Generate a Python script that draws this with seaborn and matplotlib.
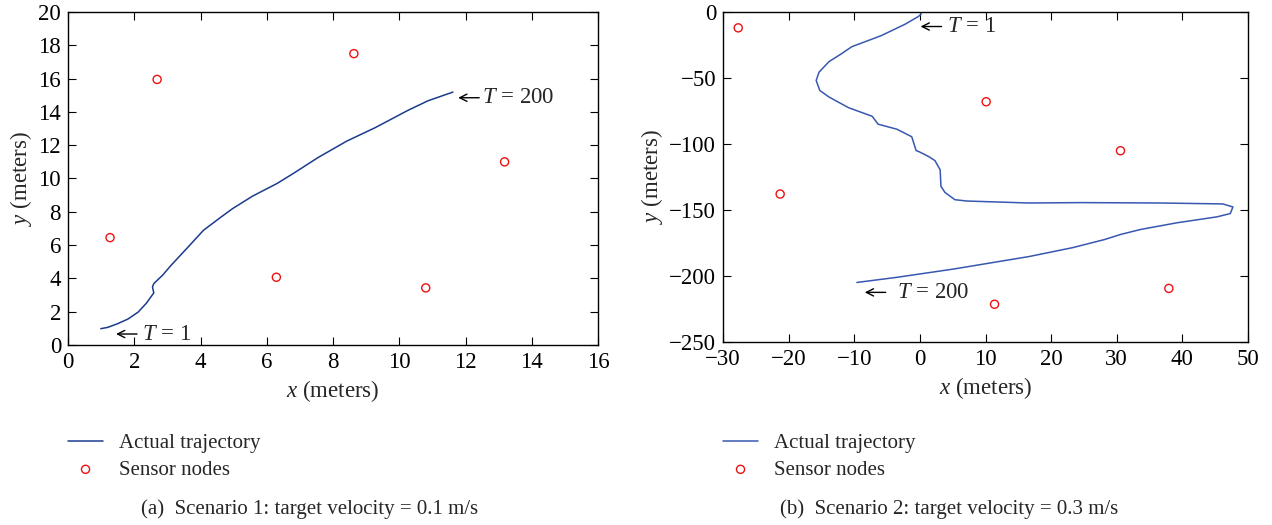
import numpy as np
import pandas as pd
import matplotlib
matplotlib.use("Agg")
import matplotlib.pyplot as plt
import seaborn as sns

# ---------------- data ----------------
traj1_x = [0.99, 1.2, 1.5, 1.81, 2.12, 2.37, 2.59, 2.55, 2.59, 2.86, 3.1, 3.6, 4.09, 4.59,
           4.96, 5.57, 6.31, 6.8, 7.55, 8.41, 9.27, 10.26, 10.87, 11.62]
traj1_y = [0.98, 1.06, 1.28, 1.56, 1.98, 2.52, 3.13, 3.49, 3.69, 4.2, 4.76, 5.83, 6.89, 7.64,
           8.18, 8.94, 9.7, 10.3, 11.26, 12.24, 13.05, 14.09, 14.67, 15.19]
sens1_x = [1.27, 2.69, 8.63, 6.29, 10.8, 13.18]
sens1_y = [6.45, 15.95, 17.5, 4.07, 3.43, 11.0]

traj2_x = [0.16, 0.16, -0.26, -2.27, -5.93, -10.38, -12.0, -13.85, -15.37, -15.8, -15.25,
           -13.85, -10.87, -7.27, -6.36, -3.5, -1.24, -0.57, -0.14, 1.38, 2.3, 3.09, 3.21,
           3.82, 5.34, 7.17, 16.6, 24.5, 36.7, 46.17, 47.7, 47.3, 45.26, 39.16, 33.68, 30.6,
           28.2, 23.3, 16.6, 5.04, -3.5, -9.6]
traj2_y = [0, -1.8, -3.5, -9.3, -18, -26.3, -31.8, -37.6, -45.6, -51.9, -59.4, -64.4, -72.5,
           -79, -85, -88.8, -94.5, -105, -105.8, -109.6, -112.6, -119.6, -132, -136.7, -142.2,
           -143.2, -144.7, -144.4, -144.7, -145.4, -147.7, -152.7, -155.2, -159.7, -164.7,
           -168.5, -172.3, -178.5, -185.3, -194.8, -201, -204.9]
sens2_x = [-27.68, -21.29, 10.1, 30.57, 11.38, 37.94]
sens2_y = [-12.0, -137.9, -68, -105.1, -221.4, -209.4]

xticks1 = list(range(0, 17, 2))
yticks1 = list(range(0, 21, 2))
xticks2 = list(range(-30, 51, 10))
yticks2 = list(range(-250, 1, 50))

captions = ["(a)  Scenario 1: target velocity = 0.1 m/s",
            "(b)  Scenario 2: target velocity = 0.3 m/s"]
legend_labels = ["Actual trajectory", "Sensor nodes"]

# ---------------- style ----------------
sns.set_style("ticks")
plt.rcParams["font.family"] = ["Liberation Serif", "DejaVu Serif"]
plt.rcParams["mathtext.fontset"] = "custom"
plt.rcParams["mathtext.rm"] = "Liberation Serif"
plt.rcParams["mathtext.it"] = "Liberation Serif:italic"
plt.rcParams["axes.edgecolor"] = "black"
plt.rcParams["axes.linewidth"] = 1.0

W, H = 1272, 525
fig = plt.figure(figsize=(W / 100, H / 100), dpi=100)

def fx(px):
    return px / W

def fy(py):
    return 1 - py / H

ax1 = fig.add_axes([fx(68), fy(345), fx(598) - fx(68), fy(12) - fy(345)])
ax2 = fig.add_axes([fx(723), fy(342), fx(1248) - fx(723), fy(12) - fy(342)])

FS = 16.5
line_colors = ["#1c3a8f", "#3857b0"]

panels = [
    (ax1, traj1_x, traj1_y, sens1_x, sens1_y, xticks1, yticks1, (0, 16), (0, 20), line_colors[0]),
    (ax2, traj2_x, traj2_y, sens2_x, sens2_y, xticks2, yticks2, (-30, 50), (-250, 0), line_colors[1]),
]

for ax, tx, ty, sx, sy, xt, yt, xl, yl, col in panels:
    dft = pd.DataFrame({"x": tx, "y": ty})
    dfs = pd.DataFrame({"x": sx, "y": sy})
    sns.lineplot(data=dft, x="x", y="y", sort=False, estimator=None, ax=ax,
                 color=col, linewidth=1.1, label=legend_labels[0], legend=False)
    sns.scatterplot(data=dfs, x="x", y="y", ax=ax, marker="o", s=34,
                    facecolors="none", edgecolor="#ee1111", linewidth=1.0,
                    label=legend_labels[1], legend=False)
    ax.set_xlim(*xl)
    ax.set_ylim(*yl)
    ax.set_xticks(xt)
    ax.set_yticks(yt)
    ax.set_xticklabels([str(v).replace("-", "\u2212") for v in xt])
    ax.set_yticklabels([str(v).replace("-", "\u2212") for v in yt])
    ax.tick_params(direction="in", top=True, right=True, length=6, width=0.8,
                   labelsize=FS, pad=5, colors="black")
    ax.set_xlabel("$x$ (meters)", fontsize=FS, labelpad=4)
    ax.set_ylabel("$y$ (meters)", fontsize=FS, labelpad=3)
    for s in ax.spines.values():
        s.set_visible(True)
        s.set_color("black")

# annotations: arrow (drawn) + label, offsets in pixels
def mark(ax, x, y, label, gap):
    ax.annotate("", xy=(x, y), xycoords="data", xytext=(21, 0),
                textcoords="offset pixels",
                arrowprops=dict(arrowstyle="->", lw=1.0, color="black",
                                shrinkA=0, shrinkB=0, mutation_scale=13))
    ax.annotate(label, xy=(x, y), xycoords="data", xytext=(21 + gap, 0),
                textcoords="offset pixels", fontsize=FS, va="center", ha="left")

mark(ax1, 11.78, 14.85, "$T$ = 200", 3)
mark(ax1, 1.45, 0.66, "$T$ = 1", 5)
mark(ax2, 0.1, -11, "$T$ = 1", 5)
mark(ax2, -8.4, -212.4, "$T$ = 200", 11)

# legends
for ax, lx in [(ax1, 60), (ax2, 715)]:
    h, l = ax.get_legend_handles_labels()
    ax.legend(h, l, loc="upper left", bbox_to_anchor=(fx(lx), fy(425)),
              bbox_transform=fig.transFigure, frameon=False, fontsize=15,
              handlelength=1.65, handletextpad=0.8, labelspacing=0.35,
              borderaxespad=0)

# captions
fig.text(fx(309.5), fy(514), captions[0], fontsize=15, ha="center", va="baseline")
fig.text(fx(949.5), fy(514), captions[1], fontsize=15, ha="center", va="baseline")

fig.savefig("out.png", dpi=100)
